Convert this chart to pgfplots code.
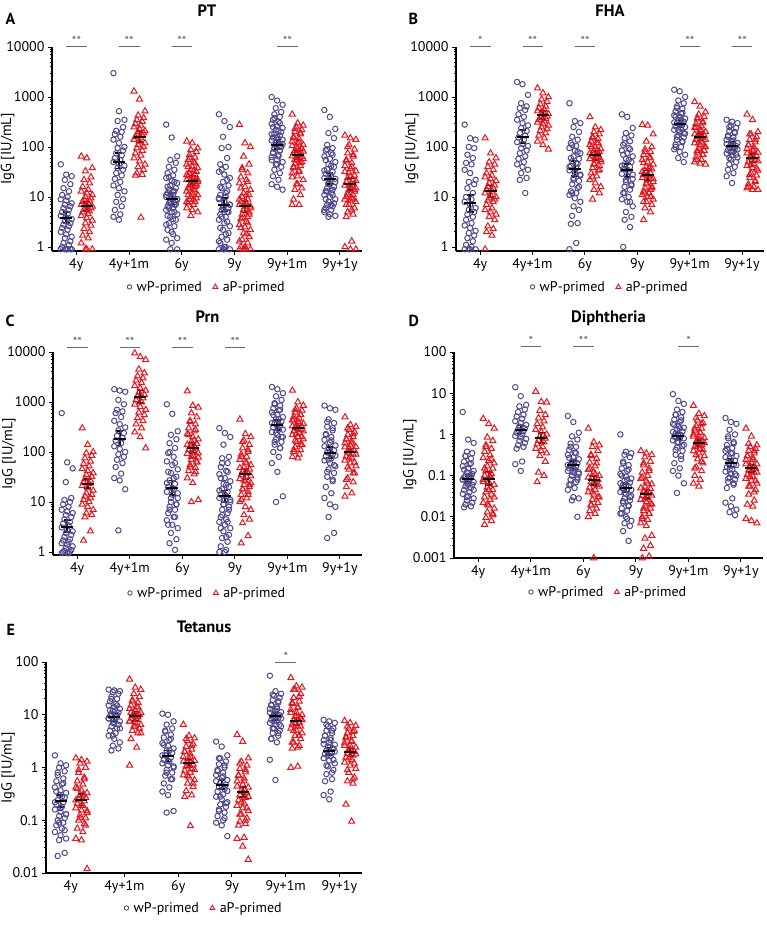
\documentclass[border=0pt]{standalone}
\usepackage{fontspec}
\setmainfont{PT Sans}
\usepackage{pgfplots}
\pgfplotsset{compat=1.18}

\definecolor{wpc}{RGB}{78,74,140}
\definecolor{apc}{RGB}{226,22,30}
\definecolor{sigc}{RGB}{105,105,105}

\newcommand\fs[1]{\fontsize{#1}{#1}\selectfont}

\pgfplotsset{
  panel/.style={
    scale only axis, axis lines=left, axis line style={-, line width=1.1pt},
    xmin=-0.46, xmax=5.42, clip=false,
    xtick={0,...,5}, xticklabels={4y,4y+1m,6y,9y,9y+1m,9y+1y},
    tick align=outside, major tick length=4pt, minor tick length=2.2pt,
    every tick/.style={black, line width=0.9pt},
    ticklabel style={font=\fs{14}},
    ylabel={IgG [IU/mL]}, ylabel style={font=\fs{14.5}, at={(axis description cs:-0.143,0.5)}, anchor=center},
    title style={font=\bfseries\fs{16.5}, at={(0.5,1)}, anchor=base, yshift=24pt},
    legend style={draw=none, fill=none, font=\fs{14}, legend columns=2,
      /tikz/every even column/.append style={column sep=9pt}, anchor=center},
  },
  wp/.style={forget plot, only marks, mark=o, mark size=2.7pt, color=wpc, line width=1pt},
  ap/.style={forget plot, only marks, mark=triangle, mark size=3.5pt, color=apc, line width=1pt},
  gm/.style={forget plot, black, only marks, mark=-, mark size=6pt, mark options={line width=2pt},
    error bars/y dir=both, error bars/y explicit, error bars/error bar style={line width=1.8pt},
    error bars/error mark options={rotate=90, mark size=3.5pt, line width=1.8pt}},
}

% one group of points: x position, values (second form: extra points of the same group)
\newcommand\wpg[2]{\addplot[wp] table[row sep=\\, header=false, y index=0,
  x expr={#1-0.19+0.026*(mod(4*\coordindex,9)-4)}] {#2};}
\newcommand\apg[2]{\addplot[ap] table[row sep=\\, header=false, y index=0,
  x expr={#1+0.2+0.026*(mod(4*\coordindex,9)-4)}] {#2};}
\newcommand\wpx[2]{\addplot[wp] table[row sep=\\, header=false, y index=0,
  x expr={#1-0.19+0.026*(mod(4*\coordindex+2,9)-4)}] {#2};}
\newcommand\apx[2]{\addplot[ap] table[row sep=\\, header=false, y index=0,
  x expr={#1+0.2+0.026*(mod(4*\coordindex+2,9)-4)}] {#2};}
\newcommand\gmplot[1]{\addplot[gm] table[row sep=\\, x=x, y=m,
  y error plus expr=\thisrow{h}-\thisrow{m}, y error minus expr=\thisrow{m}-\thisrow{l}] {#1};}
\newcommand\sig[4]{\draw[sigc, line width=0.8pt] ([yshift=#4]axis cs:#1-0.19,#2) --
  node[above, inner sep=0.3pt, font=\fs{13}] {#3} ([yshift=#4]axis cs:#1+0.2,#2);}
\newcommand\leg{%
  \addlegendimage{only marks, mark=o, mark size=2.2pt, wpc, line width=0.9pt}
  \addlegendentry{\hspace{3pt}wP-primed}
  \addlegendimage{only marks, mark=triangle, mark size=2.8pt, apc, line width=0.9pt}
  \addlegendentry{\hspace{3pt}aP-primed}}

\begin{document}
\begin{tikzpicture}
\path[use as bounding box] (0,0) rectangle (766pt,-929pt);

\node[anchor=base west, font=\bfseries\fs{16}] at (2pt,-24pt) {A};
\node[anchor=base west, font=\bfseries\fs{16}] at (405pt,-24pt) {B};
\node[anchor=base west, font=\bfseries\fs{16}] at (2pt,-326pt) {C};
\node[anchor=base west, font=\bfseries\fs{16}] at (405pt,-326pt) {D};
\node[anchor=base west, font=\bfseries\fs{16}] at (3pt,-635pt) {E};

% ---------------- PT
\begin{axis}[panel, ymode=log, at={(52pt,-251pt)}, anchor=south west, width=310pt, height=204pt,
  ymin=0.83, ymax=10000, ytick={1,10,100,1000,10000}, yticklabels={1,10,100,1000,10000},
  title=PT, legend style={at={(0.5,-0.176)}}]
\leg
\wpg{0}{45\\28\\26\\22\\18\\15\\13\\11\\10\\9\\8.5\\7.5\\7\\6.5\\6\\5.5\\5\\4.6\\4.2\\3.9\\3.6\\3.3\\3\\2.8\\2.6\\2.4\\2.2\\2\\1.8\\1.6\\1.5\\1.3\\1.2\\1.1\\1\\0.9\\0.9\\0.9\\0.9\\0.9\\0.9\\}
\apg{0}{65\\60\\38\\33\\25\\22\\19\\16\\14\\13\\12\\11\\10\\9.5\\9\\8.5\\8\\7.5\\7\\6.8\\6.5\\6.2\\6\\5.6\\5.2\\5\\4.6\\4.2\\3.8\\3.4\\3\\2.7\\2.3\\2\\1.7\\1.5\\1.2\\0.9\\0.9\\0.9\\}
\wpg{1}{3000\\520\\350\\330\\250\\210\\200\\180\\160\\140\\120\\100\\95\\85\\75\\68\\60\\55\\50\\46\\42\\38\\35\\30\\27\\23\\20\\17\\15\\13\\11\\9\\8\\6.5\\5.5\\4.5\\4\\3.5\\}
\apg{1}{1300\\900\\520\\430\\380\\350\\320\\290\\270\\250\\230\\210\\200\\190\\180\\170\\160\\150\\140\\130\\120\\110\\100\\95\\85\\75\\68\\60\\52\\45\\40\\35\\30\\28\\27\\3.9\\}
\wpg{2}{280\\155\\65\\55\\48\\40\\35\\30\\27\\24\\21\\19\\17\\15\\14\\13\\12\\11\\10\\9.5\\9\\8.5\\8\\7.5\\7\\6.5\\6\\5.5\\5\\4.5\\4\\3.5\\3\\2.6\\2.2\\1.8\\1.4\\1.2\\0.9\\0.9\\}
\wpx{2}{25\\20\\16\\13\\11\\10\\9\\8\\7\\6\\5\\4.2\\3.6\\2.8\\2\\1.5\\}
\apg{2}{130\\120\\95\\88\\80\\70\\62\\55\\50\\45\\41\\38\\35\\32\\30\\28\\26\\24\\22\\21\\20\\19\\18\\17\\16\\15\\14\\13\\12\\11\\10\\9.5\\9\\8\\7.5\\7\\6\\5.5\\5\\4.2\\}
\apx{2}{60\\48\\40\\33\\28\\25\\22\\19\\17\\15\\13\\11\\9\\8\\}
\wpg{3}{450\\330\\250\\160\\100\\95\\60\\45\\40\\32\\28\\24\\20\\17\\15\\13\\11\\10\\9\\8\\7\\6.5\\6\\5.5\\5\\4.5\\4\\3.5\\3\\2.6\\2.2\\1.9\\1.6\\1.4\\1.2\\1\\0.9\\0.9\\0.9\\0.9\\}
\wpx{3}{35\\22\\16\\12\\9.5\\8\\7\\6\\5\\4\\3.2\\2.4\\1.8\\1.3\\1\\}
\apg{3}{280\\120\\100\\65\\45\\38\\30\\25\\22\\19\\16\\14\\12\\11\\10\\9\\8\\7.5\\7\\6.5\\6\\5.5\\5\\4.5\\4\\3.6\\3.2\\2.8\\2.5\\2.2\\1.9\\1.6\\1.4\\1.2\\1\\0.9\\0.9\\0.9\\0.9\\0.9\\}
\apx{3}{35\\20\\15\\11\\9\\7.8\\6.5\\5.5\\4.5\\3.8\\3\\2.4\\1.8\\1.3\\1\\}
\wpg{4}{1000\\850\\700\\600\\500\\450\\400\\350\\320\\290\\260\\240\\220\\200\\185\\170\\155\\145\\135\\125\\115\\108\\100\\92\\85\\78\\70\\63\\56\\50\\45\\40\\35\\30\\26\\22\\18\\16\\14\\}
\wpx{4}{380\\300\\250\\210\\180\\160\\140\\120\\105\\95\\85\\75\\65\\55\\45\\}
\apg{4}{450\\300\\270\\250\\220\\200\\180\\160\\145\\130\\120\\110\\100\\92\\85\\80\\75\\70\\66\\62\\58\\54\\50\\46\\42\\38\\34\\30\\26\\22\\18\\15\\14\\11\\9\\7\\7\\}
\apx{4}{230\\190\\150\\125\\105\\95\\82\\72\\64\\56\\48\\40\\32\\25\\18\\}
\wpg{5}{550\\400\\230\\190\\150\\110\\95\\85\\75\\65\\58\\50\\45\\40\\36\\32\\29\\26\\24\\22\\20\\18\\16\\15\\14\\13\\12\\11\\10\\9\\8\\7.5\\7\\6.5\\6\\5.5\\5\\4.5\\4.2\\4\\}
\wpx{5}{90\\70\\55\\42\\34\\28\\23\\19\\16\\13\\11\\9\\7\\5.5\\}
\apg{5}{170\\150\\140\\110\\90\\75\\65\\55\\48\\42\\37\\33\\30\\27\\24\\22\\20\\18\\17\\16\\15\\14\\13\\12\\11\\10\\9.5\\9\\8.5\\8\\7\\6\\5\\4.5\\4\\1.3\\1\\0.9\\0.9\\}
\apx{5}{100\\70\\52\\40\\32\\26\\21\\17\\14\\11\\9\\7\\5.5\\}
\gmplot{x m l h\\ -0.19 3.8 3 5\\ 0.2 6.5 5.2 8\\ 0.81 50 37 75\\ 1.2 160 125 210\\ 1.81 9 7 12\\ 2.2 21 17 27\\ 2.81 7 5.2 9.5\\ 3.2 6.5 5 8.5\\ 3.81 110 90 140\\ 4.2 68 57 82\\ 4.81 23 18 30\\ 5.2 18 14 24\\}
\sig{0}{10000}{**}{1pt}\sig{1}{10000}{**}{1pt}\sig{2}{10000}{**}{1pt}\sig{4}{10000}{**}{1pt}
\end{axis}

% ---------------- FHA
\begin{axis}[panel, ymode=log, at={(456pt,-251pt)}, anchor=south west, width=308pt, height=204pt,
  ymin=0.83, ymax=10000, ytick={1,10,100,1000,10000}, yticklabels={1,10,100,1000,10000},
  title=FHA, legend style={at={(0.5,-0.176)}}]
\leg
\wpg{0}{280\\150\\140\\100\\95\\70\\60\\48\\45\\35\\30\\22\\20\\18\\15\\12\\10\\9\\8\\7\\6\\5.5\\5\\4.5\\4\\3.5\\3\\2.7\\2.4\\2.1\\1.9\\1.7\\1.5\\1.3\\1.1\\1\\0.9\\0.9\\0.9\\0.9\\}
\apg{0}{150\\75\\60\\50\\45\\40\\35\\30\\27\\25\\23\\21\\19\\17\\16\\15\\14\\13\\12\\11\\10\\9.5\\9\\8.5\\8\\7\\6\\5.5\\5\\4.5\\4\\3.5\\2.6\\2.3\\2\\1.7\\0.9\\}
\wpg{1}{2000\\1800\\1100\\750\\650\\600\\550\\450\\400\\350\\300\\270\\240\\210\\190\\170\\155\\140\\125\\115\\105\\95\\85\\75\\65\\58\\50\\45\\40\\35\\30\\24\\22\\12\\}
\apg{1}{1500\\1200\\1000\\900\\800\\720\\650\\600\\560\\520\\490\\460\\430\\410\\390\\370\\350\\330\\310\\290\\270\\250\\230\\210\\190\\170\\150\\130\\110\\90\\}
\wpg{2}{750\\330\\300\\250\\200\\160\\140\\120\\105\\95\\85\\75\\65\\58\\52\\46\\42\\38\\34\\30\\27\\24\\21\\18\\15\\13\\12\\11\\9.5\\8\\6.5\\5.5\\4.2\\3\\2.9\\1.2\\0.9\\}
\wpx{2}{110\\80\\60\\48\\40\\33\\28\\22\\16\\12\\}
\apg{2}{400\\250\\220\\200\\180\\160\\145\\130\\120\\110\\100\\92\\85\\80\\75\\70\\66\\62\\58\\54\\50\\46\\42\\38\\34\\30\\26\\22\\19\\16\\14\\12\\9\\}
\apx{2}{150\\120\\100\\85\\75\\65\\55\\45\\35\\25\\}
\wpg{3}{450\\400\\240\\190\\170\\150\\130\\110\\95\\85\\75\\65\\58\\50\\45\\40\\36\\32\\29\\26\\23\\20\\18\\16\\14\\12\\10\\9\\8\\6.5\\5\\4\\3.5\\2.5\\1\\}
\wpx{3}{120\\90\\70\\55\\42\\35\\28\\22\\17\\12\\8\\}
\apg{3}{280\\270\\180\\130\\100\\90\\80\\70\\62\\55\\50\\45\\40\\36\\33\\30\\28\\26\\24\\22\\20\\18\\16\\15\\14\\13\\12\\11\\10\\9\\8\\7\\6\\5\\3.5\\}
\apx{3}{80\\60\\48\\38\\32\\27\\23\\19\\15\\12\\10\\8\\}
\wpg{4}{1400\\1300\\1000\\850\\750\\650\\580\\520\\470\\430\\400\\370\\340\\320\\300\\280\\260\\240\\220\\200\\185\\170\\155\\140\\125\\110\\100\\90\\80\\70\\60\\50\\}
\wpx{4}{600\\480\\400\\350\\310\\280\\250\\220\\190\\160\\130\\100\\}
\apg{4}{800\\650\\500\\450\\400\\360\\320\\290\\260\\240\\220\\200\\185\\170\\160\\150\\140\\130\\120\\110\\100\\92\\85\\78\\70\\63\\56\\50\\47\\45\\}
\apx{4}{380\\300\\250\\210\\180\\160\\140\\120\\100\\85\\70\\55\\}
\wpg{5}{350\\320\\300\\270\\240\\210\\190\\170\\155\\140\\130\\120\\112\\105\\98\\92\\86\\80\\74\\68\\62\\56\\50\\45\\40\\35\\30\\26\\19\\}
\wpx{5}{250\\200\\160\\135\\115\\100\\90\\80\\70\\60\\}
\apg{5}{450\\350\\200\\180\\160\\140\\125\\110\\100\\92\\85\\78\\72\\66\\60\\55\\50\\46\\42\\38\\34\\30\\27\\24\\21\\18\\16\\15\\14\\14\\}
\apx{5}{180\\140\\110\\90\\75\\62\\52\\44\\36\\28\\20\\16\\}
\gmplot{x m l h\\ -0.19 7.5 5 11\\ 0.2 13 10 17\\ 0.81 160 120 220\\ 1.2 430 360 520\\ 1.81 37 26 52\\ 2.2 68 55 85\\ 2.81 34 25 45\\ 3.2 27 21 34\\ 3.81 290 245 340\\ 4.2 160 135 185\\ 4.81 105 88 125\\ 5.2 60 50 72\\}
\sig{0}{10000}{*}{1pt}\sig{1}{10000}{**}{1pt}\sig{2}{10000}{**}{1pt}\sig{4}{10000}{**}{1pt}\sig{5}{10000}{**}{1pt}
\end{axis}

% ---------------- Prn
\begin{axis}[panel, ymode=log, at={(53pt,-555pt)}, anchor=south west, width=309pt, height=203pt,
  ymin=0.87, ymax=10000, ytick={1,10,100,1000,10000}, yticklabels={1,10,100,1000,10000},
  title=Prn, legend style={at={(0.5,-0.187)}}]
\leg
\wpg{0}{600\\62\\47\\25\\12\\11\\10\\9\\8\\7\\6.5\\6\\5.5\\5\\4.5\\4\\3.7\\3.4\\3.1\\2.8\\2.6\\2.4\\2.2\\2\\1.8\\1.7\\1.6\\1.5\\1.4\\1.3\\1.2\\1.1\\1.05\\1\\1\\0.95\\0.95\\0.95\\}
\apg{0}{300\\140\\100\\95\\85\\75\\65\\58\\52\\46\\42\\38\\35\\32\\29\\27\\25\\23\\21\\19\\17\\15\\14\\13\\12\\11\\10\\9\\8\\7\\6\\5.5\\5\\2.6\\1.7\\}
\wpg{1}{1800\\1700\\1600\\1100\\900\\700\\650\\600\\500\\420\\360\\310\\270\\240\\210\\190\\170\\150\\130\\115\\100\\90\\80\\70\\60\\50\\37\\30\\27\\18\\2.7\\}
\apg{1}{9500\\8000\\7000\\4500\\3800\\3300\\3000\\2700\\2400\\2100\\1900\\1700\\1550\\1400\\1300\\1200\\1100\\1000\\900\\800\\700\\620\\550\\480\\420\\360\\300\\250\\200\\120\\}
\wpg{2}{900\\580\\260\\220\\180\\150\\120\\95\\80\\65\\55\\45\\38\\32\\27\\23\\20\\18\\16\\14\\12\\10\\9\\8\\7\\6\\5\\4.3\\3.5\\3\\2.4\\1.8\\1.5\\1.1\\}
\wpx{2}{100\\60\\40\\30\\24\\19\\15\\12\\9\\7\\5\\3.5\\}
\apg{2}{1650\\850\\780\\600\\500\\420\\360\\300\\260\\230\\200\\180\\160\\145\\130\\120\\110\\100\\92\\85\\78\\70\\62\\55\\48\\42\\36\\30\\24\\11\\10\\}
\apx{2}{400\\280\\220\\170\\140\\115\\95\\80\\65\\50\\40\\}
\wpg{3}{300\\240\\200\\140\\80\\75\\60\\50\\42\\36\\30\\26\\23\\20\\18\\16\\14\\13\\12\\11\\10\\9\\8\\7\\6\\5\\4.5\\4\\3.5\\3\\2.6\\2.2\\1.9\\1.6\\1.3\\1.1\\1\\1\\}
\wpx{3}{60\\40\\30\\22\\17\\14\\11\\9\\7\\5.5\\4\\3\\2\\}
\apg{3}{450\\230\\200\\170\\140\\120\\100\\90\\80\\70\\62\\55\\50\\45\\41\\38\\35\\32\\29\\26\\24\\22\\20\\18\\16\\14\\12\\10\\8\\7\\5.5\\4.5\\3.8\\2.1\\1.5\\}
\apx{3}{160\\110\\80\\60\\48\\40\\33\\27\\22\\18\\14\\11\\}
\wpg{4}{2000\\1800\\1500\\1300\\1100\\950\\850\\750\\680\\620\\560\\500\\450\\410\\370\\340\\310\\280\\250\\220\\200\\180\\160\\140\\120\\100\\80\\60\\40\\13\\10\\}
\wpx{4}{900\\700\\550\\450\\380\\320\\280\\240\\200\\160\\120\\}
\apg{4}{1700\\1000\\850\\750\\680\\620\\560\\510\\470\\430\\400\\370\\340\\320\\300\\280\\260\\240\\220\\200\\180\\160\\140\\125\\110\\100\\90\\80\\75\\}
\apx{4}{700\\550\\450\\380\\330\\290\\260\\230\\200\\170\\140\\110\\}
\wpg{5}{850\\750\\700\\450\\380\\320\\270\\230\\200\\175\\155\\135\\120\\108\\98\\90\\82\\75\\68\\60\\52\\45\\38\\32\\26\\20\\15\\12\\9\\8\\5\\2.4\\1.9\\}
\wpx{5}{400\\300\\220\\170\\130\\105\\85\\70\\55\\40\\28\\}
\apg{5}{500\\350\\320\\280\\250\\220\\200\\180\\165\\150\\138\\126\\115\\106\\98\\90\\82\\75\\68\\60\\52\\45\\38\\30\\25\\20\\15\\13\\}
\apx{5}{300\\230\\180\\150\\125\\105\\90\\75\\62\\50\\38\\28\\}
\gmplot{x m l h\\ -0.19 3.2 2.5 4.3\\ 0.2 23 19 29\\ 0.81 185 135 260\\ 1.2 1250 950 1700\\ 1.81 19 14 27\\ 2.2 120 95 150\\ 2.81 13 10 17\\ 3.2 36 29 45\\ 3.81 340 280 430\\ 4.2 300 270 340\\ 4.81 95 75 125\\ 5.2 100 85 118\\}
\sig{0}{10000}{**}{5pt}\sig{1}{10000}{**}{5pt}\sig{2}{10000}{**}{5pt}\sig{3}{10000}{**}{5pt}
\end{axis}

% ---------------- Diphtheria
\begin{axis}[panel, ymode=log, at={(454pt,-558pt)}, anchor=south west, width=309pt, height=206pt,
  ymin=0.001, ymax=100, ytick={0.001,0.01,0.1,1,10,100}, yticklabels={0.001,0.01,0.1,1,10,100},
  title=Diphtheria, legend style={at={(0.5,-0.165)}}]
\leg
\wpg{0}{3.5\\0.75\\0.62\\0.38\\0.35\\0.3\\0.26\\0.22\\0.19\\0.17\\0.15\\0.13\\0.12\\0.11\\0.1\\0.095\\0.09\\0.085\\0.08\\0.075\\0.07\\0.065\\0.06\\0.055\\0.05\\0.045\\0.04\\0.036\\0.032\\0.028\\0.025\\0.022\\0.02\\0.018\\0.017\\}
\wpx{0}{0.3\\0.2\\0.14\\0.1\\0.08\\0.06\\0.045\\0.03\\}
\apg{0}{2.4\\1.8\\1.4\\0.85\\0.7\\0.55\\0.45\\0.38\\0.32\\0.27\\0.23\\0.2\\0.17\\0.15\\0.13\\0.11\\0.1\\0.09\\0.08\\0.07\\0.06\\0.052\\0.045\\0.04\\0.035\\0.03\\0.026\\0.022\\0.019\\0.016\\0.013\\0.011\\0.0095\\0.008\\0.0065\\}
\apx{0}{0.5\\0.25\\0.15\\0.1\\0.07\\0.045\\0.03\\0.02\\0.012\\}
\wpg{1}{14\\8.5\\5.2\\4.8\\4\\3.5\\3\\2.7\\2.4\\2.1\\1.9\\1.7\\1.55\\1.4\\1.3\\1.2\\1.1\\1\\0.92\\0.85\\0.78\\0.7\\0.62\\0.55\\0.5\\0.45\\0.22\\0.19\\0.13\\}
\apg{1}{11\\6.2\\6\\3.8\\3\\2.5\\2.1\\1.8\\1.5\\1.3\\1.15\\1\\0.9\\0.8\\0.72\\0.65\\0.58\\0.5\\0.45\\0.4\\0.35\\0.3\\0.22\\0.12\\0.1\\0.07\\}
\wpg{2}{2.8\\2\\1.1\\0.9\\0.75\\0.6\\0.5\\0.42\\0.36\\0.32\\0.28\\0.25\\0.22\\0.2\\0.18\\0.165\\0.15\\0.14\\0.13\\0.12\\0.11\\0.1\\0.09\\0.08\\0.07\\0.06\\0.05\\0.045\\0.03\\0.028\\0.025\\0.01\\}
\wpx{2}{0.5\\0.35\\0.27\\0.22\\0.18\\0.15\\0.12\\0.1\\0.08\\0.06\\}
\apg{2}{1.4\\0.65\\0.55\\0.5\\0.4\\0.32\\0.26\\0.21\\0.17\\0.14\\0.12\\0.1\\0.09\\0.08\\0.07\\0.06\\0.052\\0.045\\0.04\\0.035\\0.03\\0.026\\0.022\\0.019\\0.016\\0.014\\0.012\\0.01\\0.001\\}
\apx{2}{0.3\\0.2\\0.15\\0.11\\0.09\\0.07\\0.055\\0.04\\0.03\\0.02\\}
\wpg{3}{1\\0.38\\0.35\\0.32\\0.28\\0.22\\0.18\\0.15\\0.13\\0.11\\0.095\\0.085\\0.075\\0.068\\0.06\\0.055\\0.05\\0.045\\0.04\\0.036\\0.032\\0.028\\0.025\\0.022\\0.019\\0.016\\0.014\\0.012\\0.01\\0.008\\0.007\\0.006\\0.0045\\0.0026\\}
\wpx{3}{0.2\\0.14\\0.1\\0.08\\0.065\\0.055\\0.045\\0.038\\0.03\\0.024\\0.018\\0.012\\0.009\\}
\apg{3}{0.4\\0.35\\0.32\\0.28\\0.22\\0.18\\0.15\\0.12\\0.1\\0.085\\0.072\\0.062\\0.055\\0.048\\0.042\\0.037\\0.033\\0.029\\0.026\\0.023\\0.02\\0.018\\0.016\\0.014\\0.012\\0.01\\0.0085\\0.007\\0.006\\0.0035\\0.003\\0.002\\0.0017\\0.0011\\0.001\\}
\apx{3}{0.2\\0.13\\0.09\\0.065\\0.05\\0.04\\0.033\\0.027\\0.021\\0.016\\0.012\\0.009\\}
\wpg{4}{9.5\\6.5\\5.5\\4\\3.5\\3\\2.6\\2.3\\2\\1.8\\1.6\\1.45\\1.3\\1.18\\1.06\\0.96\\0.88\\0.8\\0.72\\0.64\\0.56\\0.48\\0.4\\0.32\\0.25\\0.2\\0.15\\0.13\\0.1\\0.065\\0.038\\}
\wpx{4}{3\\2.2\\1.7\\1.4\\1.15\\0.95\\0.8\\0.65\\0.52\\0.42\\0.3\\}
\apg{4}{5\\3.2\\2.8\\2.2\\1.9\\1.6\\1.4\\1.25\\1.1\\1\\0.9\\0.82\\0.75\\0.68\\0.62\\0.56\\0.5\\0.45\\0.4\\0.35\\0.3\\0.25\\0.2\\0.16\\0.13\\0.1\\0.08\\0.065\\0.055\\}
\apx{4}{2.5\\1.8\\1.4\\1.1\\0.9\\0.75\\0.62\\0.52\\0.42\\0.32\\0.22\\0.15\\}
\wpg{5}{2.5\\2\\1.8\\1.3\\1\\0.8\\0.65\\0.55\\0.47\\0.4\\0.35\\0.3\\0.26\\0.23\\0.2\\0.18\\0.16\\0.14\\0.125\\0.11\\0.1\\0.09\\0.08\\0.07\\0.06\\0.05\\0.028\\0.022\\0.018\\0.015\\0.013\\0.011\\}
\wpx{5}{0.9\\0.6\\0.45\\0.35\\0.28\\0.22\\0.18\\0.14\\0.11\\0.085\\0.065\\}
\apg{5}{1.4\\0.9\\0.55\\0.5\\0.45\\0.4\\0.35\\0.3\\0.27\\0.24\\0.21\\0.19\\0.17\\0.15\\0.135\\0.12\\0.105\\0.095\\0.085\\0.075\\0.065\\0.055\\0.045\\0.035\\0.025\\0.02\\0.018\\0.009\\0.008\\0.007\\}
\apx{5}{0.6\\0.4\\0.3\\0.24\\0.19\\0.15\\0.12\\0.095\\0.075\\0.055\\0.04\\}
\gmplot{x m l h\\ -0.19 0.085 0.07 0.1\\ 0.2 0.085 0.06 0.12\\ 0.81 1.3 1.05 1.65\\ 1.2 0.82 0.62 1.1\\ 1.81 0.18 0.14 0.23\\ 2.2 0.078 0.06 0.1\\ 2.81 0.05 0.04 0.062\\ 3.2 0.036 0.028 0.046\\ 3.81 0.92 0.76 1.1\\ 4.2 0.62 0.52 0.73\\ 4.81 0.2 0.16 0.25\\ 5.2 0.15 0.12 0.18\\}
\sig{1}{100}{*}{6pt}\sig{2}{100}{**}{6pt}\sig{4}{100}{*}{6pt}
\end{axis}

% ---------------- Tetanus
\begin{axis}[panel, ymode=log, at={(46pt,-873pt)}, anchor=south west, width=316pt, height=211pt,
  ymin=0.01, ymax=100, ytick={0.01,0.1,1,10,100}, yticklabels={0.01,0.1,1,10,100},
  title=Tetanus, legend style={at={(0.5,-0.166)}}, ylabel style={at={(axis description cs:-0.12,0.5)}}]
\leg
\wpg{0}{1.7\\1.2\\1.1\\1\\0.85\\0.72\\0.62\\0.55\\0.48\\0.42\\0.37\\0.33\\0.3\\0.27\\0.24\\0.22\\0.2\\0.18\\0.16\\0.145\\0.13\\0.12\\0.11\\0.1\\0.09\\0.08\\0.07\\0.06\\0.052\\0.045\\0.042\\0.024\\0.021\\}
\wpx{0}{0.8\\0.5\\0.35\\0.28\\0.22\\0.17\\0.13\\0.09\\0.065\\}
\apg{0}{1.5\\1.4\\1.3\\1.2\\1\\0.8\\0.65\\0.55\\0.48\\0.42\\0.37\\0.33\\0.3\\0.27\\0.25\\0.23\\0.21\\0.19\\0.17\\0.155\\0.14\\0.125\\0.11\\0.1\\0.085\\0.07\\0.06\\0.045\\0.042\\0.012\\}
\apx{0}{0.9\\0.6\\0.4\\0.3\\0.24\\0.19\\0.15\\0.11\\0.08\\}
\wpg{1}{30\\29\\28\\27\\25\\22\\20\\18\\16\\15\\14\\13\\12\\11\\10.5\\10\\9.5\\9\\8.5\\8\\7.5\\7\\6.5\\6\\5.5\\5\\4.5\\4\\3.5\\3\\2.6\\2.3\\2.1\\}
\wpx{1}{20\\15\\12\\10\\8.5\\7\\5.5\\4\\}
\apg{1}{47\\33\\30\\25\\22\\19\\17\\15\\14\\13\\12\\11\\10.5\\10\\9.5\\9\\8.5\\8\\7.5\\7\\6.5\\6\\5.5\\5\\4.5\\3.5\\2.4\\1.1\\}
\apx{1}{18\\14\\11\\9\\7.5\\6\\4.5\\}
\wpg{2}{10.5\\10\\7.5\\6.5\\5.5\\4.8\\4.2\\3.7\\3.3\\2.9\\2.6\\2.3\\2.1\\1.9\\1.7\\1.55\\1.4\\1.3\\1.2\\1.1\\1\\0.9\\0.8\\0.7\\0.6\\0.5\\0.42\\0.35\\0.3\\0.15\\0.14\\}
\wpx{2}{5\\3.5\\2.7\\2.1\\1.7\\1.35\\1.05\\0.8\\0.6\\}
\apg{2}{6.5\\4\\3.6\\3.2\\2.8\\2.5\\2.2\\2\\1.8\\1.6\\1.45\\1.35\\1.25\\1.15\\1.05\\0.95\\0.88\\0.8\\0.72\\0.65\\0.58\\0.5\\0.43\\0.36\\0.3\\0.28\\0.078\\}
\apx{2}{3.5\\2.6\\2\\1.6\\1.3\\1.1\\0.9\\0.7\\0.5\\}
\wpg{3}{3.1\\2.5\\1.7\\1.5\\1.3\\1.15\\1\\0.9\\0.8\\0.72\\0.65\\0.58\\0.52\\0.47\\0.43\\0.39\\0.35\\0.31\\0.28\\0.25\\0.22\\0.2\\0.18\\0.16\\0.14\\0.12\\0.1\\0.09\\0.08\\0.05\\}
\wpx{3}{1.5\\1.1\\0.85\\0.68\\0.55\\0.45\\0.36\\0.28\\0.21\\0.15\\0.11\\}
\apg{3}{4.2\\3.1\\1.5\\1.3\\1.1\\0.95\\0.82\\0.72\\0.62\\0.55\\0.48\\0.42\\0.37\\0.33\\0.3\\0.27\\0.24\\0.21\\0.19\\0.17\\0.15\\0.13\\0.11\\0.095\\0.085\\0.08\\0.047\\0.045\\0.032\\0.018\\}
\apx{3}{1.2\\0.9\\0.7\\0.55\\0.44\\0.35\\0.28\\0.22\\0.17\\0.13\\0.1\\}
\wpg{4}{55\\28\\25\\23\\21\\19\\17\\15.5\\14\\13\\12\\11.2\\10.5\\9.8\\9.2\\8.6\\8\\7.5\\7\\6.5\\6\\5.5\\5\\4.5\\4\\3.5\\3\\1.4\\0.58\\}
\wpx{4}{24\\18\\15\\13\\11\\9.5\\8.5\\7.5\\6.5\\5.5\\4.5\\3.5\\}
\apg{4}{50\\35\\33\\30\\25\\21\\18\\16\\14\\12.5\\11\\10\\9.2\\8.5\\7.8\\7.2\\6.6\\6\\5.5\\5\\4.5\\4\\3.5\\3\\2.6\\2.3\\1.05\\1\\}
\apx{4}{30\\22\\17\\13.5\\11\\9.5\\8\\7\\6\\5\\4\\3\\2.4\\}
\wpg{5}{8\\7.5\\7\\6\\5.5\\5\\4.5\\4\\3.6\\3.3\\3\\2.7\\2.5\\2.3\\2.1\\1.95\\1.8\\1.65\\1.5\\1.35\\1.2\\1.05\\0.9\\0.75\\0.6\\0.55\\0.35\\0.3\\0.25\\}
\wpx{5}{6.5\\5\\4\\3.3\\2.8\\2.4\\2\\1.7\\1.4\\1.1\\0.8\\}
\apg{5}{7.7\\7\\6.2\\5.5\\5\\4.5\\4\\3.6\\3.2\\2.9\\2.6\\2.4\\2.2\\2\\1.85\\1.7\\1.55\\1.4\\1.25\\1.1\\0.95\\0.8\\0.65\\0.55\\0.5\\0.2\\0.095\\}
\apx{5}{6\\4.8\\3.8\\3.1\\2.6\\2.2\\1.8\\1.5\\1.2\\0.9\\0.6\\}
\gmplot{x m l h\\ -0.19 0.23 0.18 0.3\\ 0.2 0.24 0.19 0.31\\ 0.81 9 7.6 10.8\\ 1.2 9.3 7.7 11.5\\ 1.81 1.65 1.3 2.1\\ 2.2 1.2 1 1.45\\ 2.81 0.47 0.39 0.57\\ 3.2 0.35 0.28 0.43\\ 3.81 9.3 8 10.8\\ 4.2 7.5 6.4 8.8\\ 4.81 2.05 1.75 2.4\\ 5.2 1.95 1.65 2.3\\}
\sig{4}{100}{*}{0pt}
\end{axis}
\end{tikzpicture}
\end{document}
